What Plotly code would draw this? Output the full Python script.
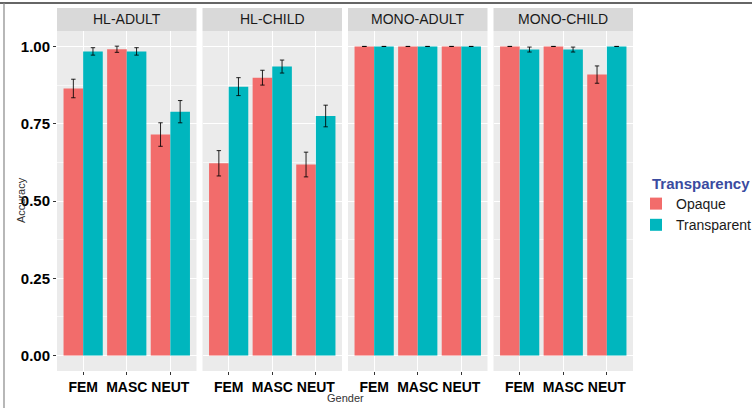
import plotly.graph_objects as go
from plotly.subplots import make_subplots

# ---- data ----
panels = ["HL-ADULT", "HL-CHILD", "MONO-ADULT", "MONO-CHILD"]
genders = ["FEM", "MASC", "NEUT"]
opaque = [[0.864, 0.991, 0.715], [0.622, 0.899, 0.618], [1.0, 1.0, 1.0], [1.0, 1.0, 0.909]]
opaque_se = [[0.030, 0.010, 0.038], [0.041, 0.024, 0.040], [0.0, 0.0, 0.0], [0.0, 0.0, 0.028]]
transparent = [[0.984, 0.984, 0.789], [0.870, 0.935, 0.775], [1.0, 1.0, 1.0], [0.990, 0.990, 1.0]]
transparent_se = [[0.012, 0.012, 0.036], [0.029, 0.021, 0.035], [0.0, 0.0, 0.0], [0.008, 0.008, 0.0]]
y_ticks = [0.0, 0.25, 0.5, 0.75, 1.0]

RED = "#F26C6B"
TEAL = "#00B6BE"
FONT = "Liberation Sans, Arial, sans-serif"

W, H = 752, 408
ML, MR, MT, MB = 57, 119, 8, 37
PW = W - ML - MR
PH = H - MT - MB
strip_px = 23
ytop = (PH - strip_px) / PH

fig = make_subplots(rows=1, cols=4, shared_yaxes=True)

err_style = dict(type="data", color="rgba(0,0,0,0.85)", thickness=1, width=2.2)
for i, p in enumerate(panels):
    col = i + 1
    fig.add_trace(go.Bar(
        x=genders, y=opaque[i], name="Opaque", marker_color=RED, marker_line_width=0,
        error_y=dict(array=opaque_se[i], **err_style), legendgroup="Opaque",
        showlegend=(i == 0), offsetgroup="o"), row=1, col=col)
    fig.add_trace(go.Bar(
        x=genders, y=transparent[i], name="Transparent", marker_color=TEAL, marker_line_width=0,
        error_y=dict(array=transparent_se[i], **err_style), legendgroup="Transparent",
        showlegend=(i == 0), offsetgroup="t"), row=1, col=col)

gap = 6 / PW
pw = (1 - 3 * gap) / 4
shapes = []
annotations = []
for i, p in enumerate(panels):
    x0 = i * (pw + gap)
    x1 = x0 + pw
    ax = "xaxis" if i == 0 else f"xaxis{i+1}"
    yax = "yaxis" if i == 0 else f"yaxis{i+1}"
    fig.layout[ax].update(
        domain=[x0, x1], range=[-0.6, 2.6], showgrid=True, gridcolor="white", gridwidth=1.1,
        ticks="outside", ticklen=3, tickcolor="#333333", tickwidth=1, tickangle=0, automargin=False,
        tickfont=dict(family=FONT, size=14, color="#000000", weight="bold"),
        zeroline=False, showline=False)
    fig.layout[yax].update(
        domain=[0, ytop], range=[-0.05, 1.05], tickvals=y_ticks, tickformat=".2f", automargin=False,
        showgrid=True, gridcolor="white", gridwidth=1.1, zeroline=False, showline=False,
        minor=dict(dtick=0.125, tick0=0.125, showgrid=True, gridcolor="#F7F7F7", gridwidth=0.6, ticks=""),
        ticks="outside" if i == 0 else "", ticklen=3, tickcolor="#333333", tickwidth=1,
        showticklabels=(i == 0),
        tickfont=dict(family=FONT, size=15, color="#000000", weight="bold"))
    shapes.append(dict(type="rect", xref="paper", yref="paper", x0=x0, x1=x1, y0=ytop, y1=1.0,
                       fillcolor="#D9D9D9", line_width=0, layer="below"))
    annotations.append(dict(text=p, xref="paper", yref="paper", x=(x0 + x1) / 2, y=(ytop + 1) / 2,
                            showarrow=False, font=dict(family=FONT, size=14, color="#1A1A1A"),
                            xanchor="center", yanchor="middle"))

# axis titles
annotations.append(dict(text="Gender", xref="paper", yref="paper", x=(345 - ML) / PW, y=(H - MB - 398) / PH,
                        showarrow=False, font=dict(family=FONT, size=11, color="#333333"),
                        xanchor="center", yanchor="middle"))
annotations.append(dict(text="Accuracy", xref="paper", yref="paper", x=(21 - ML) / PW, y=(H - MB - 200) / PH,
                        showarrow=False, textangle=-90, font=dict(family=FONT, size=11, color="#333333"),
                        xanchor="center", yanchor="middle"))
# legend title
annotations.append(dict(text="<b>Transparency</b>", xref="paper", yref="paper", x=(650 - ML) / PW,
                        y=(H - MB - 183) / PH, showarrow=False, xanchor="left", yanchor="middle",
                        font=dict(family=FONT, size=15, color="#3A4BA0")))

# image frame lines
shapes.append(dict(type="line", xref="paper", yref="paper", x0=(0 - ML) / PW, x1=(W - ML) / PW,
                   y0=(H - MB - 3) / PH, y1=(H - MB - 3) / PH, line=dict(color="#333333", width=1.5)))
shapes.append(dict(type="line", xref="paper", yref="paper", x0=(4 - ML) / PW, x1=(4 - ML) / PW,
                   y0=(H - MB - 3) / PH, y1=(H - MB - H) / PH, line=dict(color="#888888", width=1.2)))

fig.update_layout(
    width=W, height=H, margin=dict(l=ML, r=MR, t=MT, b=MB, autoexpand=False),
    paper_bgcolor="white", plot_bgcolor="#EBEBEB",
    barmode="group", bargap=0.1, bargroupgap=0.0,
    shapes=shapes, annotations=annotations,
    legend=dict(
        font=dict(family=FONT, size=14, color="#1A1A1A"),
        x=(636 - ML) / PW, xanchor="left", y=(H - MB - 188) / PH, yanchor="top",
        bgcolor="rgba(0,0,0,0)", tracegroupgap=0, itemwidth=30),
)

fig.write_html("out.html", config={"displayModeBar": False},
               post_script="document.body.style.margin='0';document.body.style.overflow='hidden';")
